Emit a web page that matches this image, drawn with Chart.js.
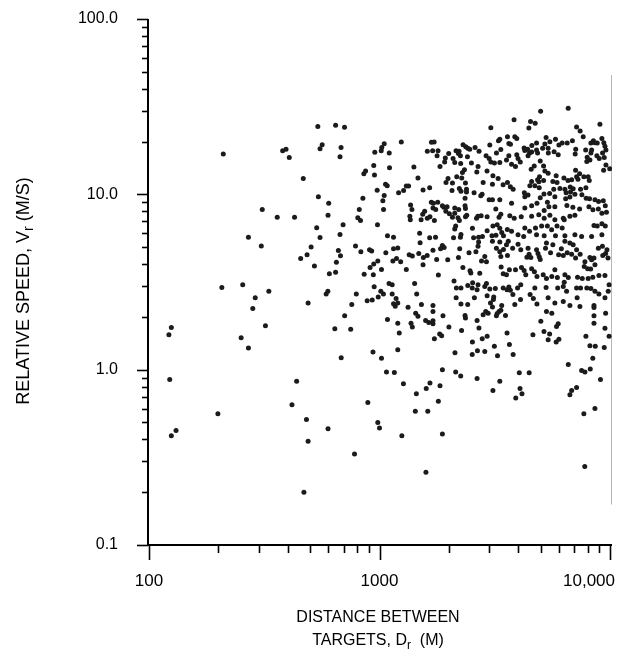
<!DOCTYPE html>
<html lang="en">
<head>
<meta charset="UTF-8">
<title>Relative speed vs distance between targets</title>
<script src="https://cdn.jsdelivr.net/npm/chart.js@4"></script>
<style>
  html, body { margin: 0; padding: 0; background: #fff; }
  #chart { display: block; }
</style>
</head>
<body>
<canvas id="chart" width="625" height="653"></canvas>
<script>
// distance between targets Dr (m), one entry per dot
const distanceM = [
  210,310,360,270,540,645,705,380,393,406,
  564,552,681,674,467,954,1017,1023,1048,1102,
  1243,944,1105,855,870,951,1062,1080,977,1210,
  1272,1048,1034,543,602,847,817,1041,598,428,
  805,827,534,695,980,552,674,1083,1150,3040,
  1680,1726,1612,1700,1794,1777,2304,2366,2414,2463,
  2597,2703,2148,2213,2200,1996,1930,1917,2085,2120,
  2244,2250,2407,2505,1830,1410,3009,3282,3325,3590,
  3216,3358,2900,2990,3040,3152,3325,3555,2676,2336,
  2290,2163,2274,1983,1943,2072,2360,1468,2643,2927,
  3105,3270,3090,2816,3437,3590,1307,1337,1545,1650,
  2063,2220,2256,2384,2384,2572,2750,2787,2350,2990,
  3090,3325,1364,1382,1354,1360,1678,1713,1789,1706,
  1753,1874,1900,1964,1940,2010,2072,2120,2206,2120,
  2350,2360,1540,1570,1515,1612,1655,1730,2190,2220,
  2360,2390,2635,2670,2760,2930,3195,3300,3360,3675,
  1493,1650,1750,2120,2140,2256,2244,2095,2530,2560,
  2690,2796,2930,3105,3240,3325,3390,3200,3450,3585,
  3075,5000,6585,3834,4520,4735,4445,7160,7420,7650,
  9042,3863,3940,3640,3700,4240,4390,4270,4800,5280,
  5483,5216,5100,5390,5800,6000,6200,6520,6870,4580,
  4800,4570,4850,5720,5400,5960,7100,7060,7840,8470,
  8600,8800,9220,9400,9506,9600,9280,8260,8320,7960,
  8181,7930,8260,8770,8980,9440,9600,9970,9380,3640,
  3940,3990,4080,3740,3890,4475,4410,4980,4690,4550,
  5150,5216,5390,5840,4945,4850,4910,5150,6310,6570,
  6815,7160,7700,8040,7260,8130,7090,7380,4570,4489,
  4719,3695,3800,4250,4410,4270,5650,5890,6060,6371,
  6450,6720,6920,6740,7041,6698,6420,5700,5470,5764,
  4930,5170,4980,7450,7860,7550,7880,8150,8601,8920,
  9350,9540,3740,4270,4570,4820,5350,5430,5764,5180,
  6500,6900,7380,8100,8430,8900,9220,9650,3840,4120,
  4570,4910,5180,5483,5764,6270,6698,7041,8520,8800,
  9220,9540,3740,4270,4475,4750,5050,5350,5580,5890,
  6200,6330,3990,4220,4800,5180,5800,6371,7041,7530,
  8320,9220,207,255,331,289,282,320,251,270,
  125,122,307,505,485,455,663,677,650,787,
  830,905,925,1065,1150,1200,522,606,645,983,
  944,910,1020,1143,1185,1235,858,940,1100,1135,
  948,1013,1040,987,1135,1180,1150,1170,1200,884,
  930,587,597,793,758,490,706,1083,1200,1218,
  640,750,937,1020,1200,682,1072,1160,1307,1500,
  1840,1874,1907,1345,1388,1480,1550,1610,1706,1770,
  1545,1977,2200,2228,2445,2620,2675,2690,2862,2770,
  2910,3090,3325,3215,3325,3450,3555,3360,3590,2300,
  2470,2490,3370,1800,2722,3440,3555,1420,2105,2155,
  2256,2415,2525,2535,2675,2862,2910,2650,3009,3180,
  3440,3575,3640,1450,2150,2580,2930,3130,3120,2256,
  2414,3030,3090,3390,1330,1520,1706,1706,1435,1468,
  2890,2960,2816,3240,3300,3360,3215,3520,1885,2350,
  2360,1585,1635,1706,1706,1370,1388,2000,2270,2650,
  2700,1824,1860,1730,2530,2790,2930,3575,3150,3660,
  2660,2862,2525,3250,2125,1874,2140,3620,3780,3990,
  4100,4410,4455,4360,4535,4800,4870,4930,4980,5250,
  5520,5650,5985,6150,6270,6520,6698,6815,7160,7090,
  7420,6371,6920,5300,7782,8181,8320,8520,8900,9270,
  9570,9800,9700,9300,8601,8240,7730,8000,3660,3890,
  4130,4240,4570,4700,4310,4820,5130,5300,5590,5764,
  5910,6371,6590,7230,7580,8040,8420,8950,9506,9910,
  3695,3790,3970,4100,4500,4650,4820,4719,5280,5930,
  6270,6330,6480,7160,7450,7930,8260,8601,8950,9506,
  9820,7200,5390,5764,6270,6698,7402,8520,3863,4090,
  5300,5590,8520,8520,9570,5010,5960,5860,8520,4630,
  5170,5470,5390,5840,6000,7860,9506,9910,8181,8630,
  9440,3800,8420,6590,4040,4460,7530,7782,8210,123,
  199,131,125,437,1270,417,890,482,598,983,
  1000,1250,490,779,470,2250,2650,3325,3105,1655,
  1595,1830,1445,1800,1430,1620,1874,1590,9090,4070,
  4150,3900,7160,6815,6698,7700,8601,7770
];

// relative speed Vr (m/s), same order as distanceM
const speedMS = [
  17.0,8.2,7.4,5.7,24.4,24.8,24.1,17.7,18.1,16.2,
  19.2,18.2,18.5,16.4,12.3,17.4,17.7,18.5,19.4,17.2,
  19.9,14.6,14.2,13.1,13.6,12.9,11.4,11.2,10.55,10.2,
  10.5,9.85,9.2,9.7,8.9,9.5,8.2,8.2,7.6,7.4,
  7.35,7.1,6.45,6.7,6.7,5.67,5.9,5.8,5.7,24.0,
  19.8,19.9,17.6,17.7,17.7,16.6,19.2,18.7,18.3,18.1,
  18.5,17.6,17.7,17.6,17.1,17.1,16.1,15.3,16.0,15.2,
  16.6,15.0,16.4,15.1,14.4,14.3,19.1,20.2,20.6,21.3,
  17.2,18.0,16.6,16.0,15.3,15.1,15.2,15.7,14.4,13.8,
  13.3,12.6,12.4,12.3,11.7,11.6,11.6,12.4,13.4,13.6,
  12.75,12.3,11.4,11.7,11.35,11.7,11.15,11.15,10.6,10.9,
  10.5,10.8,10.4,10.7,10.3,10.2,9.8,10.0,9.5,9.3,
  9.3,9.3,8.7,8.2,7.5,7.16,9.0,8.9,9.0,8.35,
  8.2,8.6,8.45,8.5,8.0,7.75,7.4,8.35,8.2,7.8,
  8.6,8.3,7.7,8.0,7.16,7.3,7.45,7.1,7.35,7.1,
  7.45,7.6,7.3,7.5,7.55,7.45,8.25,7.4,7.7,7.55,
  6.0,5.65,5.7,6.35,6.6,5.9,5.7,5.66,6.4,5.66,
  5.7,5.75,6.2,6.6,6.7,6.4,6.05,5.85,5.8,6.3,
  5.8,29.8,31.0,26.6,26.0,25.4,23.9,24.2,23.0,21.3,
  25.1,21.3,20.8,19.5,19.3,18.4,18.05,17.8,19.6,21.1,
  19.95,19.35,18.3,18.3,20.6,19.1,19.6,19.6,20.2,19.0,
  17.9,17.45,17.2,17.5,17.2,16.8,18.05,17.0,17.9,20.2,
  19.7,19.6,20.8,19.7,18.8,17.9,17.2,19.6,17.9,16.3,
  15.7,15.4,17.2,16.6,16.0,16.2,14.7,14.0,13.7,16.6,
  16.8,16.0,15.3,14.85,14.4,17.2,16.6,15.5,14.5,13.9,
  14.5,13.6,13.2,12.75,12.6,12.1,11.8,12.0,12.4,12.0,
  12.1,12.6,12.6,12.6,12.2,12.0,13.7,13.1,11.85,11.2,
  11.2,11.05,10.7,10.2,9.9,9.7,11.85,11.7,10.8,10.7,
  10.2,11.0,10.75,10.3,10.0,9.65,9.45,10.7,10.1,9.7,
  10.9,10.05,9.55,10.7,10.9,9.94,9.5,9.45,9.3,9.1,
  9.2,8.6,8.9,8.35,8.6,8.9,9.0,8.5,8.5,8.1,
  8.65,8.45,8.25,8.5,8.16,8.25,7.8,7.9,7.3,7.45,
  7.5,7.64,7.3,7.6,7.16,7.3,7.5,7.6,6.65,6.6,
  6.8,6.6,6.15,6.43,6.15,6.43,6.6,6.6,6.28,6.6,
  6.43,7.16,5.88,5.75,5.88,5.8,5.8,5.8,5.88,5.75,
  5.75,5.88,2.94,3.05,2.8,2.57,2.23,1.78,1.52,1.33,
  1.74,1.58,5.07,5.0,4.52,4.3,4.78,4.46,4.1,5.07,
  4.7,4.83,4.75,4.65,4.9,4.95,3.9,3.52,3.6,4.17,
  4.0,3.82,3.73,4.17,4.3,4.13,3.5,3.48,3.1,3.05,
  2.97,2.8,2.7,2.6,2.7,2.55,2.38,2.3,2.4,2.47,
  2.5,2.7,2.8,2.7,2.35,2.4,2.03,1.93,1.84,1.62,
  1.71,1.7,1.26,1.16,1.3,1.17,0.97,0.965,3.73,5.3,
  4.9,5.1,4.98,4.52,4.45,4.6,4.36,4.48,4.8,4.25,
  3.97,4.24,4.36,4.9,4.65,4.7,5.05,5.35,4.42,4.17,
  4.12,5.4,5.35,4.93,4.7,4.85,5.16,4.42,4.48,3.82,
  3.66,3.56,3.85,3.47,3.55,3.52,3.48,3.1,3.2,2.92,
  2.92,3.02,2.92,3.13,3.05,2.98,3.1,2.86,2.88,2.9,
  2.92,2.86,2.96,2.7,2.57,2.57,2.64,2.6,2.51,2.37,
  2.35,2.4,2.28,2.32,2.27,2.35,2.32,2.15,2.1,2.02,
  2.15,2.1,2.06,2.09,2.15,2.18,2.03,2.04,2.03,2.04,
  1.97,1.91,1.86,1.9,1.83,1.84,1.75,1.75,1.67,1.91,
  1.73,1.6,1.56,1.5,1.44,1.5,1.55,1.62,1.36,1.39,
  1.28,1.27,1.22,1.2,1.25,1.0,0.97,5.4,4.93,5.2,
  4.83,4.93,4.56,4.38,4.36,4.83,4.6,4.4,4.25,4.93,
  4.65,5.16,4.52,4.9,4.48,4.65,5.28,4.56,4.83,4.33,
  4.56,5.4,5.16,5.28,4.13,4.36,4.24,4.33,4.93,5.05,
  4.6,4.33,4.83,4.48,3.97,3.75,3.88,3.76,3.72,3.72,
  3.82,3.68,3.76,3.62,3.48,3.4,3.48,3.31,3.4,3.71,
  3.35,3.48,3.35,3.37,3.31,3.31,3.37,3.44,3.44,3.05,
  2.84,2.68,2.92,3.05,2.68,2.55,2.37,2.92,2.94,2.92,
  2.98,3.15,2.8,2.92,2.92,2.92,2.9,2.8,2.7,2.57,
  2.8,2.57,2.57,2.4,2.45,2.32,2.29,2.32,2.35,2.51,
  2.15,2.1,2.26,2.03,2.1,1.89,1.83,1.76,1.84,1.58,
  1.65,1.6,1.48,1.44,1.49,1.55,1.72,1.55,1.37,1.36,
  1.34,1.22,1.16,1.07,0.96,0.96,0.99,0.97,1.01,0.88,
  0.56,0.45,0.42,0.86,0.83,0.63,0.65,0.52,0.46,0.5,
  0.465,0.42,0.39,0.33,0.2,0.92,0.89,0.86,0.76,0.84,
  0.78,0.81,0.73,0.66,0.58,0.58,0.43,0.26,0.88,0.78,
  0.73,0.69,0.79,0.76,0.72,0.56,0.6,0.28
];

// axis ticks
const xTickValues = [100, 1000, 10000];
const xTickLabels = ['100', '1000', '10,000'];
const yTickValues = [0.1, 1, 10, 100];
const yTickLabels = ['0.1', '1.0', '10.0', '100.0'];

// thin grey vertical line at the right edge of the plot
const edgeDistance = [10200, 10200];
const edgeSpeed = [48, 0.17];

const points = distanceM.map((d, i) => ({ x: d, y: speedMS[i] }));
const edge = edgeDistance.map((d, i) => ({ x: d, y: edgeSpeed[i] }));

const FONT = '"Liberation Sans", Arial, Helvetica, sans-serif';
Chart.defaults.font.family = FONT;
Chart.defaults.font.size = 16;
Chart.defaults.color = '#000';

// draws tick marks, axis lines, tick labels and the axis titles
const axisPainter = {
    id: 'axisPainter',
    afterDraw(chart) {
        const { ctx, scales: { x, y } } = chart;
        const left = x.left - 1;
        const bottom = y.bottom;
        ctx.save();
        ctx.strokeStyle = '#000';
        ctx.lineWidth = 2;

        // axis lines
        ctx.beginPath();
        ctx.moveTo(left, y.top);
        ctx.lineTo(left, bottom);
        ctx.moveTo(left - 1, bottom);
        ctx.lineTo(x.right, bottom);
        ctx.stroke();

        // y ticks
        ctx.lineWidth = 1.6;
        for (let e = -1; e <= 2; e++) {
            for (let k = 1; k <= 9; k++) {
                const v = k * Math.pow(10, e);
                if (v < 0.1 - 1e-9 || v > 100 + 1e-9) continue;
                const py = Math.round(y.getPixelForValue(v)) + 0.5;
                const len = k === 1 ? 11 : 6;
                ctx.beginPath();
                ctx.moveTo(left, py);
                ctx.lineTo(left - len, py);
                ctx.stroke();
            }
        }
        // x ticks
        for (let e = 2; e <= 4; e++) {
            for (let k = 1; k <= 9; k++) {
                const v = k * Math.pow(10, e);
                if (v > 10000) continue;
                const px = Math.round(x.getPixelForValue(v)) + 0.5;
                const len = k === 1 ? 15 : 8;
                ctx.beginPath();
                ctx.moveTo(px, bottom);
                ctx.lineTo(px, bottom + len);
                ctx.stroke();
            }
        }

        ctx.fillStyle = '#000';
        ctx.font = '16px ' + FONT;
        ctx.textBaseline = 'middle';

        // y tick labels
        ctx.textAlign = 'right';
        yTickValues.forEach((v, i) => {
            ctx.fillText(yTickLabels[i], 118, y.getPixelForValue(v));
        });

        // x tick labels
        ctx.font = '17px ' + FONT;
        xTickValues.forEach((v, i) => {
            const px = x.getPixelForValue(v);
            if (i === xTickValues.length - 1) {
                ctx.textAlign = 'right';
                ctx.fillText(xTickLabels[i], px + 5, 581);
            } else {
                ctx.textAlign = 'center';
                ctx.fillText(xTickLabels[i], px, 581);
            }
        });

        // text with subscript helper
        function subText(parts, cx, cy, size) {
            const big = size + 'px ' + FONT, small = Math.round(size * 0.75) + 'px ' + FONT;
            let w = 0;
            parts.forEach(p => { ctx.font = p.sub ? small : big; w += ctx.measureText(p.t).width; });
            let cur = cx - w / 2;
            ctx.textAlign = 'left';
            parts.forEach(p => {
                ctx.font = p.sub ? small : big;
                ctx.fillText(p.t, cur, cy + (p.sub ? size * 0.3 : 0));
                cur += ctx.measureText(p.t).width;
            });
        }

        // x title
        ctx.textAlign = 'center';
        ctx.font = '16px ' + FONT;
        ctx.fillText('DISTANCE BETWEEN', 378, 618);
        subText([{ t: 'TARGETS, D' }, { t: 'r', sub: true }, { t: '  (M)' }], 378, 641, 16);

        // y title
        ctx.save();
        ctx.translate(24, 291);
        ctx.rotate(-Math.PI / 2);
        subText([{ t: 'RELATIVE SPEED, V' }, { t: 'r', sub: true }, { t: ' (M/S)' }], 0, 0, 18);
        ctx.restore();

        ctx.restore();
    }
};

new Chart(document.getElementById('chart'), {
    type: 'scatter',
    data: {
        datasets: [
            {
                label: 'targets',
                data: points,
                pointRadius: 2.5,
                pointHoverRadius: 2.5,
                pointBackgroundColor: '#1b1b1b',
                pointBorderWidth: 0
            },
            {
                label: 'edge',
                data: edge,
                showLine: true,
                borderColor: '#a6a6a6',
                borderWidth: 1.6,
                pointRadius: 0
            }
        ]
    },
    options: {
        responsive: false,
        animation: false,
        events: [],
        layout: { padding: { left: 0, top: 19, right: 13, bottom: 0 } },
        plugins: { legend: { display: false }, tooltip: { enabled: false } },
        scales: {
            x: {
                type: 'logarithmic',
                min: 100,
                max: 10200,
                grid: { display: false, drawTicks: false },
                border: { display: false },
                ticks: { display: false },
                afterFit: s => { s.height = 108; }
            },
            y: {
                type: 'logarithmic',
                min: 0.1,
                max: 100,
                grid: { display: false, drawTicks: false },
                border: { display: false },
                ticks: { display: false },
                afterFit: s => { s.width = 149; }
            }
        }
    },
    plugins: [axisPainter]
});
</script>
</body>
</html>
